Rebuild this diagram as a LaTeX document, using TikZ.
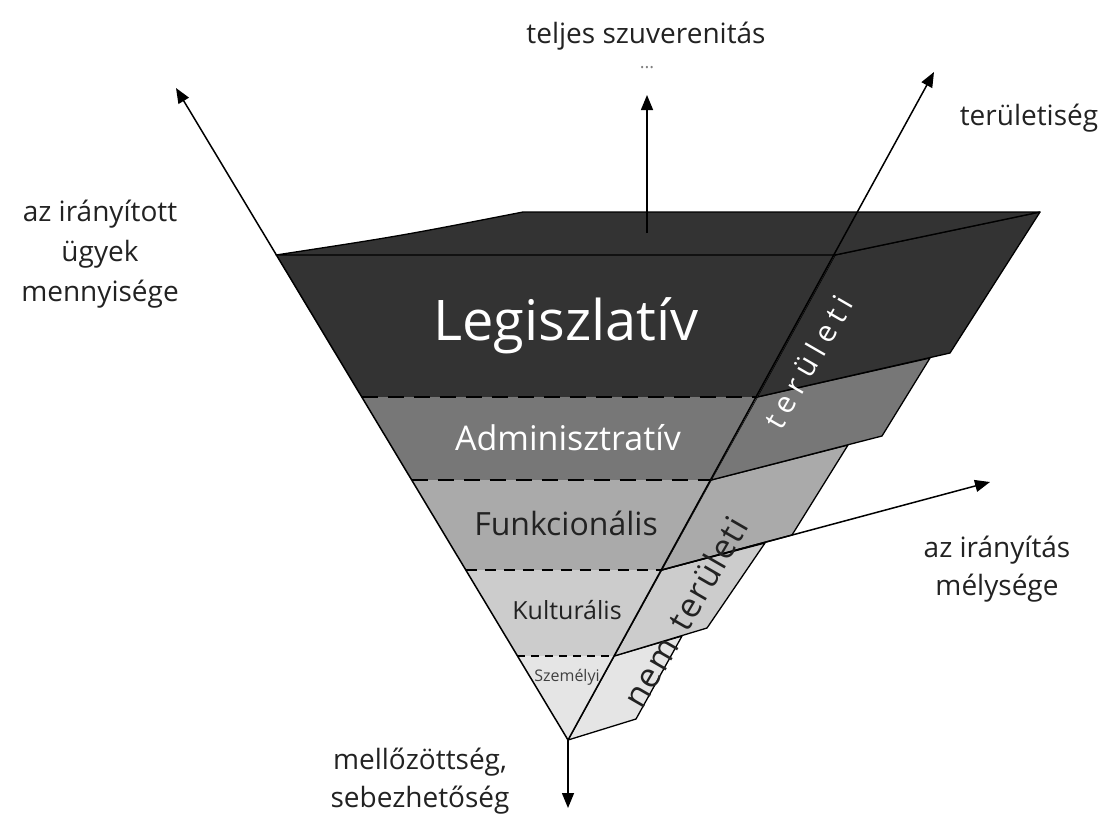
\documentclass[tikz,border=0pt]{standalone}
\usepackage{fontspec}
\setmainfont{Open Sans}
\newfontfamily\spacedA[LetterSpace=22]{Open Sans}
\newfontfamily\spacedB[LetterSpace=4]{Open Sans}
\usetikzlibrary{arrows.meta}
\definecolor{cleg}{HTML}{333333}
\definecolor{cadm}{HTML}{777777}
\definecolor{cfun}{HTML}{AAAAAA}
\definecolor{ckul}{HTML}{CCCCCC}
\definecolor{csze}{HTML}{E5E5E5}
\definecolor{ctxt}{HTML}{222222}
\tikzset{
  face/.style={draw=black, line width=1.3pt, line join=round},
  sep/.style={line width=1.6pt, dash pattern=on 16pt off 10pt},
  sepsmall/.style={line width=1.6pt, dash pattern=on 8pt off 6pt},
  axis/.style={line width=1.5pt, -{Triangle[length=15pt,width=12pt]}},
  lbl/.style={text=ctxt, align=center, inner sep=0pt},
}
\begin{document}
\begin{tikzpicture}[x=1pt,y=-1pt]
\useasboundingbox (0,0) rectangle (1110,817);
% front face points
\coordinate (apex) at (568,740);
\coordinate (TL) at (276,255);
\coordinate (TR) at (835,255);
\coordinate (L1) at (361.5,397); \coordinate (R1) at (757.2,397);
\coordinate (L2) at (411.5,480); \coordinate (R2) at (711.1,480);
\coordinate (L3) at (465.6,570); \coordinate (R3) at (661.6,570);
\coordinate (L4) at (517.4,656); \coordinate (R4) at (614.2,656);
% top face back corners
\coordinate (BL) at (523,212);
\coordinate (BR) at (1040,212);
% side face corners
\coordinate (S1) at (950,353);
\coordinate (A0) at (930,358); \coordinate (A1) at (882,436);
\coordinate (F0) at (848,445); \coordinate (F1) at (792,535);
\coordinate (K0) at (765,543); \coordinate (K1) at (707,628);
\coordinate (P0) at (682,636); \coordinate (P1) at (636,719);
% axis ends
\coordinate (leftTip) at (176,88);
\coordinate (terTip) at (934,72);
\coordinate (depTip) at (990,482);
\coordinate (topStart) at (647,233);
\coordinate (topTip) at (647,95);
\coordinate (botTip) at (568,808);

% side faces
\filldraw[face, fill=csze] (R4) -- (P0) -- (P1) -- (apex) -- cycle;
\filldraw[face, fill=ckul] (R3) -- (K0) -- (K1) -- (R4) -- cycle;
\filldraw[face, fill=cfun] (R2) -- (F0) -- (F1) -- (R3) -- cycle;
\filldraw[face, fill=cadm] (R1) -- (A0) -- (A1) -- (R2) -- cycle;
\filldraw[face, fill=cleg] (TR) -- (BR) -- (S1) -- (R1) -- cycle;

% front face layers
\fill[cleg] (TL) -- (TR) -- (R1) -- (L1) -- cycle;
\fill[cadm] (L1) -- (R1) -- (R2) -- (L2) -- cycle;
\fill[cfun] (L2) -- (R2) -- (R3) -- (L3) -- cycle;
\fill[ckul] (L3) -- (R3) -- (R4) -- (L4) -- cycle;
\fill[csze] (L4) -- (R4) -- (apex) -- cycle;
\draw[sep] (L1) -- (R1);
\draw[sep] (L2) -- (R2);
\draw[sepsmall, dash pattern=on 11pt off 8pt] (L3) -- (R3);
\draw[sepsmall] (L4) -- (R4);

% top face
\filldraw[face, fill=cleg] (TL) .. controls (400,236) .. (BL) -- (BR) -- (TR) -- cycle;

% axes
\draw[axis] (apex) -- (leftTip);
\draw[axis] (apex) -- (terTip);
\draw[axis] (R3) -- (depTip);
\draw[axis] (topStart) -- (topTip);
\draw[axis] (apex) -- (botTip);

% layer labels
\node[text=white, inner sep=0pt, font=\fontsize{56}{60}\selectfont] (leg) at (566,326) {Legiszlatív};
\node[text=white, inner sep=0pt, font=\fontsize{34}{40}\selectfont] (adm) at (568,438) {Adminisztratív};
\node[text=ctxt, inner sep=0pt, font=\fontsize{32}{38}\selectfont] (fun) at (566,523) {Funkcionális};
\node[text=ctxt, inner sep=0pt, font=\fontsize{25}{30}\selectfont] (kul) at (567,610) {Kulturális};
\node[text=black!75, inner sep=0pt, font=\fontsize{16}{18}\selectfont] (sze) at (567,677) {Személyi};

% rotated labels
\node[text=white, inner sep=0pt, rotate=60, font=\spacedA\fontsize{30}{34}\selectfont] (ter) at (808,362) {területi};
\node[text=ctxt, inner sep=0pt, rotate=60, font=\spacedB\fontsize{34}{38}\selectfont] (nter) at (685,612) {nem\hspace{0.45em}területi};

% axis labels
\node[lbl, font=\fontsize{28}{34}\selectfont] (sov) at (646,36) {teljes szuverenitás};
\node[lbl, text=black!50, font=\fontsize{18}{20}\selectfont] (dots) at (647,68) {...};
\node[lbl, font=\fontsize{28}{34}\selectfont] (terl) at (1029,118) {területiség};
\node[lbl, font=\fontsize{28}{40}\selectfont] (qty) at (100,254) {az irányított\\ügyek\\mennyisége};
\node[lbl, font=\fontsize{28}{38}\selectfont] (dep) at (997,569) {az irányítás\\mélysége};
\node[lbl, font=\fontsize{28}{38}\selectfont] (neg) at (420,781) {mellőzöttség,\\sebezhetőség};
\end{tikzpicture}
\end{document}
